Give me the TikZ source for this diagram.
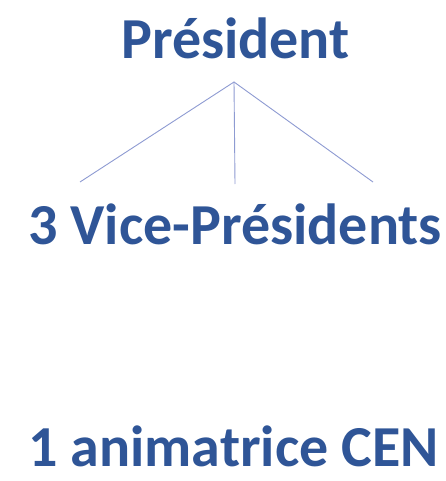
\documentclass[tikz,border=0pt]{standalone}
\usepackage{fontspec}
\setmainfont{Carlito}
\definecolor{txtblue}{HTML}{2F5597}
\definecolor{lineblue}{HTML}{8E9BD2}
\begin{document}
\begin{tikzpicture}[x=1pt,y=-1pt,
  lbl/.style={font=\fontsize{58}{62}\selectfont\bfseries, text=txtblue, inner sep=0pt, anchor=base},
  conn/.style={draw=lineblue, line width=0.9pt}]
\useasboundingbox[fill=white] (0,0) rectangle (446,481);
\node[lbl] (pres) at (235.5,59) {Président};
\node[lbl] (vice) at (235,244) {3 Vice-Présidents};
\node[lbl] (anim) at (233.5,466) {1 animatrice CEN};
\coordinate (top) at (234,82);
\coordinate (l) at (80,182);
\coordinate (m) at (235,184);
\coordinate (r) at (373,182);
\draw[conn] (l) -- (top) -- (r);
\draw[conn] (top) -- (m);
\end{tikzpicture}
\end{document}
